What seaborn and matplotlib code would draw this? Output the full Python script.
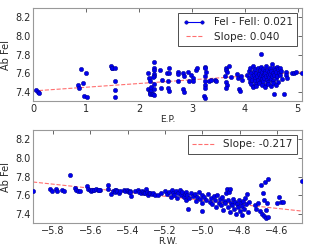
import numpy as np
import pandas as pd
import matplotlib
matplotlib.use("Agg")
import matplotlib.pyplot as plt
from matplotlib.lines import Line2D
import seaborn as sns

# ---- data: excitation potential vs abundance ----
ep = [0.05, 0.09, 0.11,
      0.85, 0.86, 0.91, 0.95, 0.97, 1.00, 1.01,
      1.48, 1.49, 1.49, 1.55, 1.55, 1.55, 1.55,
      2.18, 2.19, 2.20, 2.18, 2.20, 2.21, 2.20, 2.23, 2.22, 2.25,
      2.28, 2.28, 2.28, 2.29, 2.28, 2.28, 2.29, 2.27, 2.29, 2.26,
      2.40, 2.41, 2.43,
      2.53, 2.54, 2.55, 2.56, 2.57, 2.57,
      2.73, 2.74, 2.73, 2.83, 2.85, 2.84, 2.85,
      2.93, 2.94, 2.99, 3.03, 3.03, 3.07, 3.09,
      3.24, 3.25, 3.26, 3.24, 3.25, 3.24, 3.25, 3.22, 3.24,
      3.33, 3.36, 3.44, 3.45,
      3.64, 3.65, 3.66, 3.63, 3.64, 3.66, 3.65, 3.70, 3.73,
      3.86, 3.88, 3.89, 3.91, 3.93, 3.95,
      4.05, 4.07, 4.08, 4.10, 4.10, 4.12, 4.13, 4.14, 4.15, 4.15,
      4.17, 4.18, 4.19, 4.20, 4.20, 4.21, 4.22, 4.23, 4.24, 4.25,
      4.26, 4.27, 4.28, 4.28, 4.29, 4.30, 4.31, 4.31, 4.32, 4.33,
      4.34, 4.35, 4.35, 4.36, 4.37, 4.38, 4.38, 4.39, 4.40, 4.40,
      4.41, 4.42, 4.43, 4.44, 4.45, 4.46, 4.47, 4.48, 4.49, 4.50,
      4.51, 4.52, 4.53, 4.54, 4.55, 4.56, 4.56, 4.57, 4.58, 4.59,
      4.60, 4.61, 4.62, 4.63, 4.64, 4.66, 4.67, 4.68, 4.70, 4.74,
      4.78, 4.78, 4.79, 4.90, 4.93, 4.97, 5.08,
      4.11, 4.16, 4.22, 4.27, 4.33, 4.39, 4.44, 4.49, 4.53, 4.58]
ab_ep = [7.42, 7.40, 7.39,
         7.47, 7.44, 7.64, 7.49, 7.35, 7.60, 7.34,
         7.68, 7.65, 7.66, 7.65, 7.52, 7.42, 7.34,
         7.60, 7.55, 7.52, 7.43, 7.41, 7.39, 7.38, 7.42, 7.45, 7.37,
         7.72, 7.65, 7.63, 7.59, 7.57, 7.48, 7.43, 7.38, 7.36, 7.56,
         7.63, 7.44, 7.53,
         7.60, 7.51, 7.44, 7.41, 7.65, 7.60,
         7.61, 7.59, 7.52, 7.60, 7.57, 7.43, 7.40,
         7.61, 7.51, 7.58, 7.55, 7.52, 7.63, 7.65,
         7.67, 7.65, 7.61, 7.57, 7.51, 7.47, 7.44, 7.35, 7.33,
         7.51, 7.53, 7.53, 7.51,
         7.66, 7.63, 7.61, 7.57, 7.50, 7.47, 7.44, 7.68, 7.56,
         7.59, 7.55, 7.43, 7.41, 7.57, 7.53,
         7.58, 7.62, 7.55, 7.65, 7.50, 7.60, 7.57, 7.53, 7.68, 7.46,
         7.62, 7.58, 7.55, 7.64, 7.51, 7.60, 7.48, 7.57, 7.66, 7.53,
         7.61, 7.59, 7.56, 7.63, 7.50, 7.58, 7.81, 7.67, 7.54, 7.61,
         7.57, 7.64, 7.52, 7.59, 7.55, 7.62, 7.47, 7.60, 7.57, 7.68,
         7.53, 7.63, 7.58, 7.50, 7.61, 7.56, 7.65, 7.59, 7.54, 7.62,
         7.57, 7.70, 7.60, 7.52, 7.66, 7.58, 7.38, 7.63, 7.55, 7.61,
         7.67, 7.57, 7.64, 7.50, 7.60, 7.65, 7.58, 7.62, 7.54, 7.38,
         7.61, 7.58, 7.55, 7.60, 7.60, 7.61, 7.60,
         7.48, 7.45, 7.46, 7.49, 7.47, 7.45, 7.48, 7.46, 7.49, 7.47]

# ---- data: reduced width vs abundance ----
rw = [-5.907, -5.818, -5.805, -5.782, -5.779, -5.750, -5.740, -5.711,
      -5.684, -5.675, -5.665, -5.654, -5.620, -5.615, -5.600, -5.595, -5.585, -5.590, -5.580,
      -5.570, -5.560, -5.550, -5.553, -5.507, -5.505, -5.490, -5.477, -5.470, -5.468, -5.460, -5.455, -5.448, -5.440,
      -5.420, -5.415, -5.405, -5.400, -5.395, -5.390, -5.385, -5.380,
      -5.360, -5.345, -5.340, -5.330, -5.325, -5.320, -5.310, -5.305, -5.300, -5.295, -5.290, -5.285, -5.280, -5.270, -5.265, -5.255,
      -5.240, -5.220, -5.200, -5.190, -5.180, -5.170, -5.160, -5.155, -5.150, -5.140, -5.135, -5.130, -5.120, -5.115, -5.110,
      -5.100, -5.095, -5.090, -5.085, -5.080, -5.070, -5.060, -5.050, -5.040, -5.035, -5.030, -5.020, -5.010, -5.000, -5.000,
      -5.075, -5.000,
      -4.990, -4.980, -4.970, -4.960, -4.955, -4.950, -4.940, -4.930, -4.925, -4.920, -4.910, -4.905, -4.900, -4.895, -4.890,
      -4.885, -4.880, -4.875, -4.870, -4.865, -4.860, -4.855, -4.850, -4.850, -4.845, -4.840, -4.835, -4.830, -4.825, -4.820,
      -4.815, -4.810, -4.805, -4.800, -4.795, -4.790, -4.785, -4.780, -4.775, -4.770, -4.765, -4.760, -4.755, -4.750,
      -4.720, -4.710, -4.700, -4.690, -4.685, -4.680, -4.675, -4.670, -4.670, -4.665, -4.660, -4.660, -4.655, -4.650, -4.650,
      -4.600, -4.590, -4.580, -4.570, -4.466]
ab_rw = [7.64, 7.67, 7.64, 7.67, 7.64, 7.655, 7.64, 7.82,
         7.68, 7.66, 7.64, 7.64, 7.70, 7.67, 7.65, 7.64, 7.65, 7.66, 7.655,
         7.67, 7.66, 7.66, 7.65, 7.71, 7.67, 7.61, 7.64, 7.65, 7.63, 7.66, 7.64, 7.62, 7.64,
         7.65, 7.64, 7.65, 7.64, 7.63, 7.645, 7.63, 7.585,
         7.64, 7.65, 7.63, 7.62, 7.64, 7.63, 7.62, 7.625, 7.67, 7.63, 7.60, 7.62, 7.62, 7.61, 7.62, 7.605,
         7.60, 7.62, 7.64, 7.61, 7.63, 7.58, 7.65, 7.62, 7.60, 7.64, 7.57, 7.62, 7.65, 7.60, 7.63,
         7.58, 7.61, 7.55, 7.63, 7.60, 7.57, 7.62, 7.59, 7.61, 7.54, 7.58, 7.63, 7.56, 7.60, 7.52,
         7.45, 7.43,
         7.58, 7.55, 7.61, 7.53, 7.57, 7.50, 7.59, 7.55, 7.47, 7.60, 7.52, 7.56, 7.49, 7.58, 7.44,
         7.54, 7.51, 7.62, 7.67, 7.47, 7.55, 7.63, 7.67, 7.42, 7.52, 7.49, 7.56, 7.45, 7.53, 7.40,
         7.50, 7.47, 7.55, 7.43, 7.52, 7.39, 7.48, 7.54, 7.45, 7.57, 7.50, 7.61, 7.42, 7.53,
         7.49, 7.45, 7.51, 7.43, 7.71, 7.40, 7.62, 7.55, 7.38, 7.74, 7.35, 7.44, 7.52, 7.77, 7.36,
         7.52, 7.58, 7.53, 7.53, 7.75]

# fit results shown in the legends
feI_feII = 0.021
slope_ep, icept_ep = 0.040, 7.408
slope_rw, icept_rw = -0.217, 6.459

df_ep = pd.DataFrame({"EP": ep, "Ab": ab_ep})
df_rw = pd.DataFrame({"RW": rw, "Ab": ab_rw})

sns.set_style("white")
plt.rcParams["font.family"] = ["DejaVu Sans"]

fig = plt.figure(figsize=(3.12, 2.5), dpi=100)
ax1 = fig.add_axes([0.106, 0.596, 0.862, 0.372])
ax2 = fig.add_axes([0.106, 0.108, 0.862, 0.372])

pt_kw = dict(color="#0000ee", s=10, edgecolor="#000080", linewidth=0.3, zorder=3)
fit_kw = dict(color="#ff6f6f", ls="--", lw=0.8, zorder=2)

# top panel
sns.scatterplot(data=df_ep, x="EP", y="Ab", ax=ax1, legend=False, **pt_kw)
x1 = np.array([0.0, max(ep)])
ax1.plot(x1, icept_ep + slope_ep * x1, **fit_kw)
ax1.set_xlim(0, max(ep))
ax1.set_xticks(np.arange(0, 6, 1))

# bottom panel
sns.scatterplot(data=df_rw, x="RW", y="Ab", ax=ax2, legend=False, **pt_kw)
x2 = np.array([min(rw), max(rw)])
ax2.plot(x2, icept_rw + slope_rw * x2, **fit_kw)
ax2.set_xlim(min(rw), max(rw))
ax2.set_xticks(np.round(np.arange(-5.8, -4.5, 0.2), 1))

for ax, xl in ((ax1, "E.P."), (ax2, "R.W.")):
    ax.set_ylim(7.3, 8.3)
    ax.set_yticks(np.round(np.arange(7.4, 8.21, 0.2), 1))
    ax.set_xlabel(xl, fontsize=6.5, labelpad=1)
    ax.set_ylabel("Ab FeI", fontsize=7, labelpad=3)
    ax.tick_params(direction="in", length=3, width=0.6, labelsize=7,
                   top=True, right=True, pad=2, color="0.3")
    for s in ax.spines.values():
        s.set_color("0.6")
        s.set_linewidth(0.8)

h_pts = Line2D([], [], color="#0000ee", marker="o", markersize=2.5, lw=0.8,
               markeredgecolor="#000080", markeredgewidth=0.3)
h_fit1 = Line2D([], [], **fit_kw)
leg1 = ax1.legend([h_pts, h_fit1],
                  [f"FeI - FeII: {feI_feII:.3f}", f"Slope: {slope_ep:.3f}"],
                  loc="upper right", fontsize=7.5, fancybox=False, framealpha=1,
                  edgecolor="0.3", borderaxespad=0.5, handlelength=2.2,
                  borderpad=0.4, labelspacing=0.4, numpoints=2)
leg1.get_frame().set_linewidth(0.7)

h_fit2 = Line2D([], [], **fit_kw)
leg2 = ax2.legend([h_fit2], [f"Slope: {slope_rw:.3f}"],
                  loc="upper right", fontsize=7.5, fancybox=False, framealpha=1,
                  edgecolor="0.3", borderaxespad=0.5, handlelength=2.2,
                  borderpad=0.4)
leg2.get_frame().set_linewidth(0.7)

fig.savefig("out.png", dpi=100)
